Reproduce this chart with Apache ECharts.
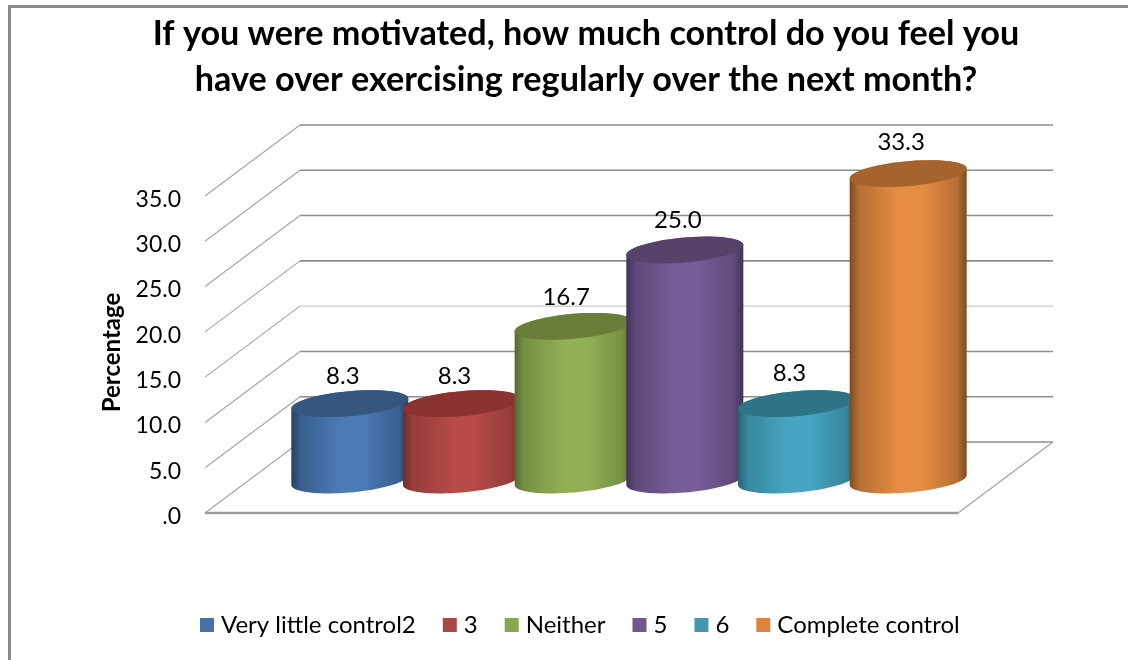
<!DOCTYPE html>
<html><head><meta charset="utf-8">
<style>html,body{margin:0;padding:0;background:#fff}#c{width:1128px;height:660px}</style>
<script src="https://cdn.jsdelivr.net/npm/echarts@6/dist/echarts.min.js"></script>
</head><body><div id="c"></div>
<script>
var categories = ['Very little control2', '3', 'Neither', '5', '6', 'Complete control'];
var values = [8.3, 8.3, 16.7, 25.0, 8.3, 33.3];
var yTicks = [0, 5, 10, 15, 20, 25, 30, 35];
var colors = ['#4572a7', '#aa4643', '#89a54e', '#71588f', '#4198af', '#db843d'];
var centerColors = ['#4a7ab5', '#b54a47', '#91b053', '#775d97', '#46a5c0', '#e68d43'];
var edgeColors = ['#25405f', '#6f2c2b', '#55682f', '#42325a', '#256375', '#7c4a1f'];
var topColors = ['#35567f', '#8a3331', '#6a7e3a', '#574269', '#2f7386', '#a5642e'];
var titleLines = ['If you were motivated, how much control do you feel you', 'have over exercising regularly over the next month?'];
var font = 'Lato';

var chart = echarts.init(document.getElementById('c'), null, {renderer: 'canvas'});
var DX = 95, DY = -71, RX = 58.5, RY = 12.5, TILT = 5;

function ellipse(cx, cy, from, to) {
  var pts = [];
  for (var k = 0; k <= 48; k++) {
    var t = (from + (to - from) * k / 48) * Math.PI;
    var c = Math.cos(t), s = Math.sin(t);
    pts.push([cx + RX * c, cy + RY * s - TILT * c]);
  }
  return pts;
}

function wallItem(r, v, y) {
  var x0 = r.x;
  var lighter = v === 15;
  var lineC = lighter ? '#bdbdbd' : '#8e8e8e';
  var kids = [
    {type: 'polyline', shape: {points: [[x0, y], [x0 + DX, y + DY]]}, style: {stroke: '#a6a6a6', lineWidth: 1.2, fill: null}},
    {type: 'line', shape: {x1: x0 + DX, y1: y + DY, x2: x0 + r.width + DX, y2: y + DY}, style: {stroke: lineC, lineWidth: lighter ? 1 : 1.6}}
  ];
  if (v === 0) {
    kids.push({type: 'line', shape: {x1: x0, y1: y, x2: x0 + r.width, y2: y}, style: {stroke: '#9c9c9c', lineWidth: 2.4}});
    kids.push({type: 'line', shape: {x1: x0 + r.width, y1: y, x2: x0 + r.width + DX, y2: y + DY}, style: {stroke: '#a6a6a6', lineWidth: 1.4}});
  }
  return {type: 'group', children: kids};
}

function cylinderSeries(i) {
  return {
    name: categories[i],
    type: 'custom',
    xAxisIndex: 1,
    yAxisIndex: 1,
    z: 5 + i,
    clip: false,
    itemStyle: {color: colors[i]},
    data: [[categories[i], values[i]]],
    encode: {x: 0, y: 1},
    renderItem: function (params, api) {
      var top = api.coord([api.value(0), api.value(1)]);
      var base = api.coord([api.value(0), 0]);
      var cx = top[0];
      var body = ellipse(cx, top[1], 1, 2).concat(ellipse(cx, base[1], 0, 1));
      var grad = new echarts.graphic.LinearGradient(0, 0, 1, 0, [
        {offset: 0, color: edgeColors[i]},
        {offset: 0.08, color: echarts.color.lerp(0.55, [edgeColors[i], centerColors[i]])},
        {offset: 0.42, color: centerColors[i]},
        {offset: 0.62, color: centerColors[i]},
        {offset: 0.92, color: echarts.color.lerp(0.55, [edgeColors[i], centerColors[i]])},
        {offset: 1, color: edgeColors[i]}
      ]);
      return {type: 'group', children: [
        {type: 'polygon', shape: {points: body}, style: {fill: grad}},
        {type: 'polygon', shape: {points: ellipse(cx, top[1], 0, 2)}, style: {fill: topColors[i]}},
        {type: 'text', x: cx - 7, y: top[1] - 27 - i * 0.8,
         style: {text: api.value(1).toFixed(1), fill: '#000', font: '24px ' + font, align: 'center', verticalAlign: 'middle'}}
      ]};
    }
  };
}

var series = [{
  type: 'custom', xAxisIndex: 0, yAxisIndex: 0, z: 1, silent: true, clip: false,
  data: yTicks.map(function (v) { return [0, v]; }),
  encode: {y: 1},
  renderItem: function (params, api) {
    var v = api.value(1);
    return wallItem(params.coordSys, v, api.coord([0, v])[1]);
  }
}];
categories.forEach(function (c, i) { series.push(cylinderSeries(i)); });

chart.setOption({
  animation: false,
  backgroundColor: '#fff',
  title: {
    text: titleLines.join('\n'),
    left: 581, top: 6, textAlign: 'center',
    textStyle: {fontFamily: font, fontWeight: 'bold', fontSize: 34.2, lineHeight: 46, color: '#000'}
  },
  legend: {
    data: categories, left: 195, top: 608, icon: 'rect',
    itemWidth: 14, itemHeight: 14, itemGap: 27, selectedMode: false,
    textStyle: {fontFamily: font, fontSize: 24, color: '#000', padding: [0, 0, 0, 2]}
  },
  grid: [
    {left: 205, top: 196, width: 753, height: 317},
    {left: 294, top: 158, width: 670, height: 322}
  ],
  xAxis: [
    {type: 'value', gridIndex: 0, min: 0, max: 1, show: false},
    {type: 'category', gridIndex: 1, data: categories, show: false}
  ],
  yAxis: [
    {type: 'value', gridIndex: 0, min: 0, max: 35, interval: 5,
     name: 'Percentage', nameLocation: 'middle', nameGap: 77,
     nameTextStyle: {fontFamily: font, fontWeight: 'bold', fontSize: 24, color: '#000', padding: [0, 0, 0, 4]},
     axisLine: {show: false}, axisTick: {show: false}, splitLine: {show: false},
     axisLabel: {margin: 24, color: '#000',
       rich: {t: {fontFamily: font, fontSize: 23, color: '#000', padding: [7, 0, 0, 0]}},
       formatter: function (v) { return '{t|' + (v === 0 ? '.0' : v.toFixed(1)) + '}'; }}},
    {type: 'value', gridIndex: 1, min: 0, max: 35, show: false}
  ],
  graphic: [
    {type: 'polyline', silent: true, z: 0, shape: {points: [[9.5, 660], [9.5, 6.5], [1128, 6.5]]},
     style: {stroke: '#8a8a8a', lineWidth: 3, fill: null}}
  ],
  series: series
});
</script></body></html>
